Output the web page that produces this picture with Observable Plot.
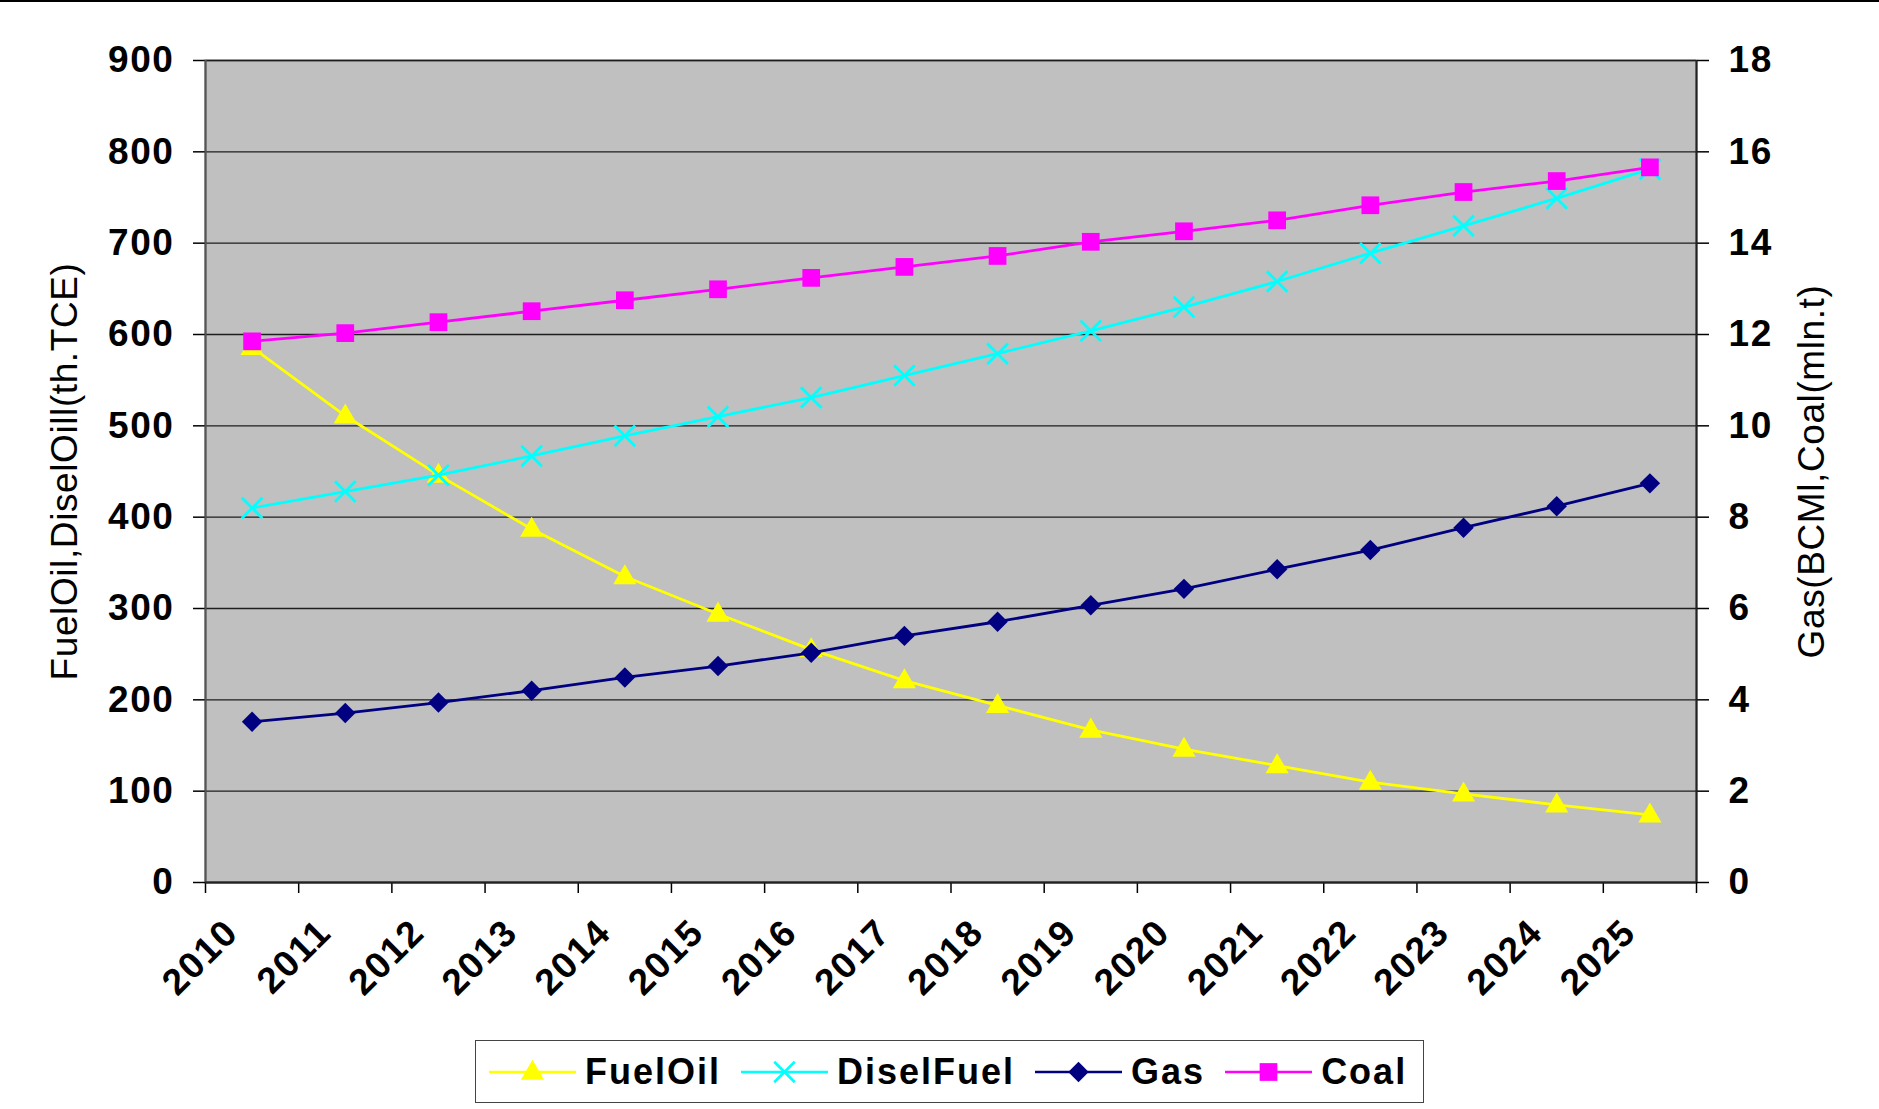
<!DOCTYPE html>
<html>
<head>
<meta charset="utf-8">
<script src="https://cdn.jsdelivr.net/npm/d3@7"></script>
<script src="https://cdn.jsdelivr.net/npm/@observablehq/plot@0.6"></script>
<style>
  html, body { margin: 0; padding: 0; background: #fff; }
  #wrap { position: relative; width: 1879px; height: 1109px; overflow: hidden;
          font-family: "Liberation Sans", Arial, sans-serif; background: #fff; }
  #chart { position: absolute; left: 0; top: 0; }
  #topline { position: absolute; left: 0; top: 0; width: 1879px; height: 2px; background: #000; }
  #legend { position: absolute; left: 475px; top: 1040px; width: 949px; height: 63px;
            box-sizing: border-box; border: 1.5px solid #444; background: #fff;
            display: flex; align-items: center; padding-left: 13px; }
  .item { display: flex; align-items: center; margin-right: 20px; }
  .item span { font-size: 36px; font-weight: bold; letter-spacing: 2px; margin-left: 9px; line-height: 1; color: #000; }
</style>
</head>
<body>
<div id="wrap">
  <div id="chart"></div>
  <div id="topline"></div>
  <div id="legend"></div>
</div>
<script>
// ---- data ----
const years = ["2010","2011","2012","2013","2014","2015","2016","2017","2018","2019","2020","2021","2022","2023","2024","2025"];
const fuelOil   = [586, 511, 446, 387, 335, 294, 255, 221, 194, 167, 146, 128, 110, 97, 85, 74];       // left axis (th.TCE)
const diselFuel = [410, 428, 446, 467, 489, 510, 531, 555, 579, 604, 630, 658, 689, 719, 749, 781];    // left axis (th.TCE)
const gas       = [3.52, 3.71, 3.94, 4.20, 4.49, 4.74, 5.03, 5.40, 5.71, 6.07, 6.43, 6.86, 7.28, 7.77, 8.24, 8.74];          // right axis
const coal      = [11.85, 12.03, 12.27, 12.51, 12.75, 12.99, 13.24, 13.48, 13.72, 14.03, 14.26, 14.50, 14.83, 15.12, 15.36, 15.66]; // right axis
const leftTicks  = [0, 100, 200, 300, 400, 500, 600, 700, 800, 900];
const rightTicks = [0, 2, 4, 6, 8, 10, 12, 14, 16, 18];
const leftTitle  = "FuelOil,DiselOill(th.TCE)";
const rightTitle = "Gas(BCMl,Coal(mln.t)";
const seriesNames = ["FuelOil", "DiselFuel", "Gas", "Coal"];

// right axis maps onto the left axis domain
const RATIO = leftTicks[leftTicks.length - 1] / rightTicks[rightTicks.length - 1];

const series = [
  {name: seriesNames[0], vals: fuelOil,   k: 1,     color: "#ffff00", symbol: "triangle", r: 8.6, filled: true, dy: 1},
  {name: seriesNames[1], vals: diselFuel, k: 1,     color: "#00ffff", symbol: "times",    r: 9.4, filled: false, dy: 0},
  {name: seriesNames[2], vals: gas,       k: RATIO, color: "#000080", symbol: "diamond2", r: 9.2, filled: true, dy: 0},
  {name: seriesNames[3], vals: coal,      k: RATIO, color: "#ff00ff", symbol: "square",   r: 10,  filled: true, dy: 0}
];
const rows = s => s.vals.map((v, i) => ({x: i + 0.5, y: v * s.k, year: years[i]}));

const font = '"Liberation Sans", Arial, sans-serif';
const seriesMarks = series.flatMap(s => [
  Plot.line(rows(s), {x: "x", y: "y", stroke: s.color, strokeWidth: 2.8}),
  Plot.dot(rows(s), s.filled
    ? {x: "x", y: "y", symbol: () => s.symbol, r: s.r, fill: s.color, stroke: "none", dy: s.dy}
    : {x: "x", y: "y", symbol: () => s.symbol, r: s.r, fill: "none", stroke: s.color, strokeWidth: 2.8, dy: s.dy})
]);

const plot = Plot.plot({
  width: 1879,
  height: 1030,
  marginLeft: 205,
  marginRight: 183,
  marginTop: 60,
  marginBottom: 148,
  x: {type: "linear", domain: [0, years.length], axis: null},
  y: {type: "linear", domain: [leftTicks[0], leftTicks[leftTicks.length - 1]], axis: null},
  symbol: {type: "identity"},
  style: {fontFamily: font, background: "transparent", color: "#000", overflow: "visible"},
  marks: [
    Plot.frame({fill: "#c0c0c0", stroke: "#808080", strokeWidth: 2}),
    Plot.gridY(leftTicks, {stroke: "#1e1e1e", strokeOpacity: 1, strokeWidth: 1.4}),
    Plot.axisY({anchor: "left", ticks: leftTicks, tickSize: 12, tickPadding: 19, fontSize: 37, fontWeight: "bold", label: null, stroke: "#000", strokeWidth: 1.5}),
    Plot.axisY({anchor: "right", ticks: leftTicks, tickFormat: d => String(d / RATIO), tickSize: 12, tickPadding: 20, fontSize: 37, fontWeight: "bold", label: null, stroke: "#000", strokeWidth: 1.5}),
    Plot.axisX({ticks: d3.range(years.length + 1), tickFormat: () => "", tickSize: 11, label: null, stroke: "#000", strokeWidth: 1.5}),
    Plot.ruleX([0], {stroke: "#555", strokeWidth: 2}),
    Plot.ruleX([years.length], {stroke: "#222", strokeWidth: 2}),
    Plot.ruleY([0], {stroke: "#222", strokeWidth: 2}),
    Plot.text(years, {x: (d, i) => i + 0.5, frameAnchor: "bottom", rotate: -45, textAnchor: "end", dx: -12, dy: 52, fontSize: 37, fontWeight: "bold", fill: "#000"}),
    Plot.text([leftTitle], {frameAnchor: "left", textAnchor: "middle", dx: -140, rotate: -90, fontSize: 37, fill: "#000"}),
    Plot.text([rightTitle], {frameAnchor: "right", textAnchor: "middle", dx: 116, rotate: -90, fontSize: 37, fill: "#000"}),
    ...seriesMarks
  ]
});
document.getElementById("chart").appendChild(plot);

// letter spacing like the reference's wide rendering
plot.querySelectorAll("text").forEach(t => {
  const s = t.textContent;
  t.style.letterSpacing = (s === leftTitle || s === rightTitle) ? "0.6px" : "1.6px";
});

// ---- legend (HTML below the SVG) ----
const legend = d3.select("#legend");
const symMap = {triangle: d3.symbolTriangle, times: d3.symbolTimes, diamond2: d3.symbolDiamond2, square: d3.symbolSquare};
series.forEach(s => {
  const item = legend.append("div").attr("class", "item");
  const sw = item.append("svg").attr("width", 87).attr("height", 30);
  sw.append("line").attr("x1", 0).attr("x2", 87).attr("y1", 15).attr("y2", 15)
    .attr("stroke", s.color).attr("stroke-width", 2.7);
  const path = d3.symbol(symMap[s.symbol], s.r * s.r * Math.PI)();
  sw.append("path").attr("d", path).attr("transform", `translate(43.5,${15 + s.dy})`)
    .attr("fill", s.filled ? s.color : "none")
    .attr("stroke", s.filled ? "none" : s.color)
    .attr("stroke-width", 2.6);
  item.append("span").text(s.name);
});
</script>
</body>
</html>
